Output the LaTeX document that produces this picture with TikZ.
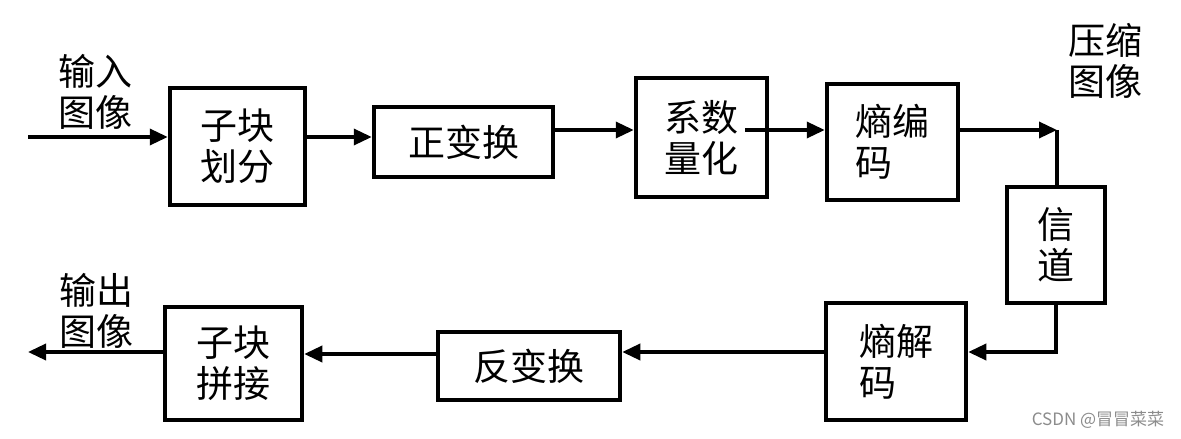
\documentclass[tikz,border=0pt]{standalone}
\usepackage{fontspec}
\setmainfont{Noto Sans CJK SC}
\usetikzlibrary{arrows.meta}
\begin{document}
\begin{tikzpicture}[x=1pt,y=-1pt,
  box/.style={draw=black,line width=4.5pt,inner sep=0pt,align=center,
    font=\fontsize{37}{41}\selectfont},
  lbl/.style={inner sep=0pt,align=left,font=\fontsize{37}{41}\selectfont},
  conn/.style={line width=3.5pt,black},
  arr/.style={conn,-{Triangle[length=18pt,width=16pt]}}]
\useasboundingbox (0,0) rectangle (1181,439);
\fill[white] (0,0) rectangle (1181,439);
% boxes
\node[box,minimum width=135pt,minimum height=117pt] (b1) at (237.5,146.5) {子块\\划分};
\node[box,minimum width=179pt,minimum height=70pt] (b2) at (463.5,142) {正变换};
\node[box,minimum width=131pt,minimum height=119pt] (b3) at (701.5,137.5) {系数\\量化};
\node[box,minimum width=131pt,minimum height=116pt,align=left] (b4) at (892.5,142) {熵编\\码};
\node[box,minimum width=98pt,minimum height=116pt] (b5) at (1056,245) {信\\道};
\node[box,minimum width=140pt,minimum height=117pt,align=left] (b6) at (896,361.5) {熵解\\码};
\node[box,minimum width=182pt,minimum height=68pt] (b7) at (529,366) {反变换};
\node[box,minimum width=137pt,minimum height=113pt] (b8) at (233.5,363.5) {子块\\拼接};
% labels
\node[lbl] (tin) at (95,92) {输入\\图像};
\node[lbl] (tcmp) at (1105,61) {压缩\\图像};
\node[lbl] (tout) at (96,311) {输出\\图像};
\node[inner sep=0pt,text=black!45,font=\fontsize{17}{19}\selectfont] (wm) at (1098,420) {CSDN @冒冒菜菜};
% coordinates
\coordinate (pin) at (28,137);
\coordinate (r1) at (0,137);
\coordinate (r2) at (0,130);
\coordinate (s3) at (745,130);
\coordinate (c1) at (1057,130);
\coordinate (c2) at (1056,352);
\coordinate (r6) at (0,354);
\coordinate (pout) at (28,352);
% connectors
\draw[arr] (pin) -- (b1.west |- r1);
\draw[arr] (b1.east |- r1) -- (b2.west |- r1);
\draw[arr] (b2.east |- r2) -- (b3.west |- r2);
\draw[arr] (s3) -- (b4.west |- s3);
\draw[arr] (b4.east |- c1) -- (c1);
\draw[conn] (c1) -- (c1 |- b5.north);
\draw[arr] (b5.south) -- (c2) -- (b6.east |- c2);
\draw[arr] (b6.west |- c2) -- (b7.east |- c2);
\draw[arr] (b7.west |- r6) -- (b8.east |- r6);
\draw[arr] (b8.west |- pout) -- (pout);
\end{tikzpicture}
\end{document}
